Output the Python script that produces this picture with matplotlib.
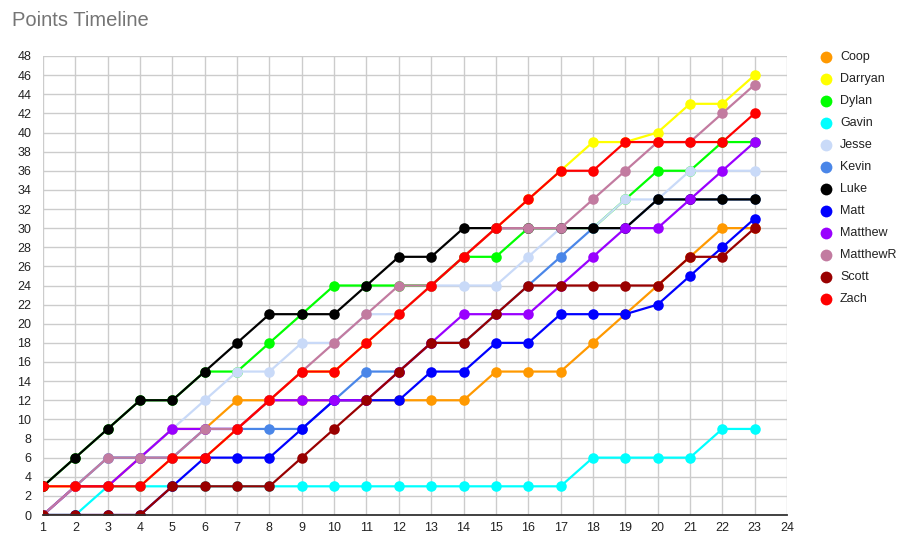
import matplotlib
matplotlib.use("Agg")
import matplotlib.pyplot as plt
from matplotlib.lines import Line2D

plt.rcParams['font.family'] = ['Liberation Sans', 'DejaVu Sans']

rounds = list(range(1, 24))
names = ["Coop", "Darryan", "Dylan", "Gavin", "Jesse", "Kevin", "Luke",
         "Matt", "Matthew", "MatthewR", "Scott", "Zach"]
colors = ["#ff9900", "#ffff00", "#00ff00", "#00ffff", "#c9daf8", "#4a86e8",
          "#000000", "#0000ff", "#9900ff", "#c27ba0", "#990000", "#ff0000"]

coop     = [0, 3, 3, 6, 9, 9, 12, 12, 12, 12, 12, 12, 12, 12, 15, 15, 15, 18, 21, 24, 27, 30, 30]
darryan  = [3, 3, 3, 3, 6, 6, 9, 12, 15, 15, 18, 21, 24, 27, 30, 33, 36, 39, 39, 40, 43, 43, 46]
dylan    = [3, 6, 9, 12, 12, 15, 15, 18, 21, 24, 24, 24, 24, 27, 27, 30, 30, 30, 33, 36, 36, 39, 39]
gavin    = [0, 0, 3, 3, 3, 3, 3, 3, 3, 3, 3, 3, 3, 3, 3, 3, 3, 6, 6, 6, 6, 9, 9]
jesse    = [0, 3, 6, 6, 9, 12, 15, 15, 18, 18, 21, 21, 24, 24, 24, 27, 30, 30, 33, 33, 36, 36, 36]
kevin    = [0, 3, 6, 6, 6, 9, 9, 9, 9, 12, 15, 15, 18, 18, 21, 24, 27, 30, 30, 33, 33, 33, 33]
luke     = [3, 6, 9, 12, 12, 15, 18, 21, 21, 21, 24, 27, 27, 30, 30, 30, 30, 30, 30, 33, 33, 33, 33]
matt     = [0, 0, 0, 0, 3, 6, 6, 6, 9, 12, 12, 12, 15, 15, 18, 18, 21, 21, 21, 22, 25, 28, 31]
matthew  = [0, 3, 3, 6, 9, 9, 9, 12, 12, 12, 12, 15, 18, 21, 21, 21, 24, 27, 30, 30, 33, 36, 39]
matthewr = [0, 3, 6, 6, 6, 9, 9, 12, 15, 18, 21, 24, 24, 27, 30, 30, 30, 33, 36, 39, 39, 42, 45]
scott    = [0, 0, 0, 0, 3, 3, 3, 3, 6, 9, 12, 15, 18, 18, 21, 24, 24, 24, 24, 24, 27, 27, 30]
zach     = [3, 3, 3, 3, 6, 6, 9, 12, 15, 15, 18, 21, 24, 27, 30, 33, 36, 36, 39, 39, 39, 39, 42]

series = [coop, darryan, dylan, gavin, jesse, kevin, luke, matt, matthew, matthewr, scott, zach]

x_ticks = list(range(1, 25))
y_ticks = list(range(0, 49, 2))

W, H = 901, 540
fig = plt.figure(figsize=(W / 100, H / 100), dpi=100)
fig.patch.set_facecolor("white")

left, right, top, bottom = 43, 787, 56, 515
ax = fig.add_axes([left / W, 1 - bottom / H, (right - left) / W, (bottom - top) / H])

for name, color, vals in zip(names, colors, series):
    ax.plot(rounds, vals, color=color, lw=1.6, marker="o", markersize=7.6,
            markeredgewidth=0, zorder=3, solid_joinstyle="round")

ax.set_xlim(1, 24)
ax.set_ylim(0, 48)
ax.set_xticks(x_ticks)
ax.set_yticks(y_ticks)
ax.set_xticklabels([str(t) for t in x_ticks])
ax.set_yticklabels([str(t) for t in y_ticks])
ax.grid(True, color="#cccccc", lw=1)
ax.set_axisbelow(True)
for s in ["top", "right", "left"]:
    ax.spines[s].set_visible(False)
ax.spines["bottom"].set_color("#333333")
ax.spines["bottom"].set_linewidth(1.3)
ax.spines["bottom"].set_zorder(4)
ax.tick_params(axis="both", length=0, labelsize=9, labelcolor="#222222")
ax.tick_params(axis="y", pad=8.5)
ax.tick_params(axis="x", pad=5)
for lab in ax.get_yticklabels():
    lab.set_horizontalalignment("right")
ax.set_facecolor("white")

fig.text(12 / W, 1 - 20 / H, "Points Timeline", fontsize=14.5, color="#757575",
         ha="left", va="center")

# legend
for i, (name, color) in enumerate(zip(names, colors)):
    yc = 1 - (57 + 22 * i) / H
    fig.add_artist(Line2D([826 / W], [yc], marker="o", markersize=8.5, markeredgewidth=0,
                          color=color, linestyle="none", transform=fig.transFigure))
    fig.text(840 / W, yc, name, fontsize=9, color="#222222", ha="left", va="center")

fig.savefig("out.png", dpi=100, facecolor="white")
